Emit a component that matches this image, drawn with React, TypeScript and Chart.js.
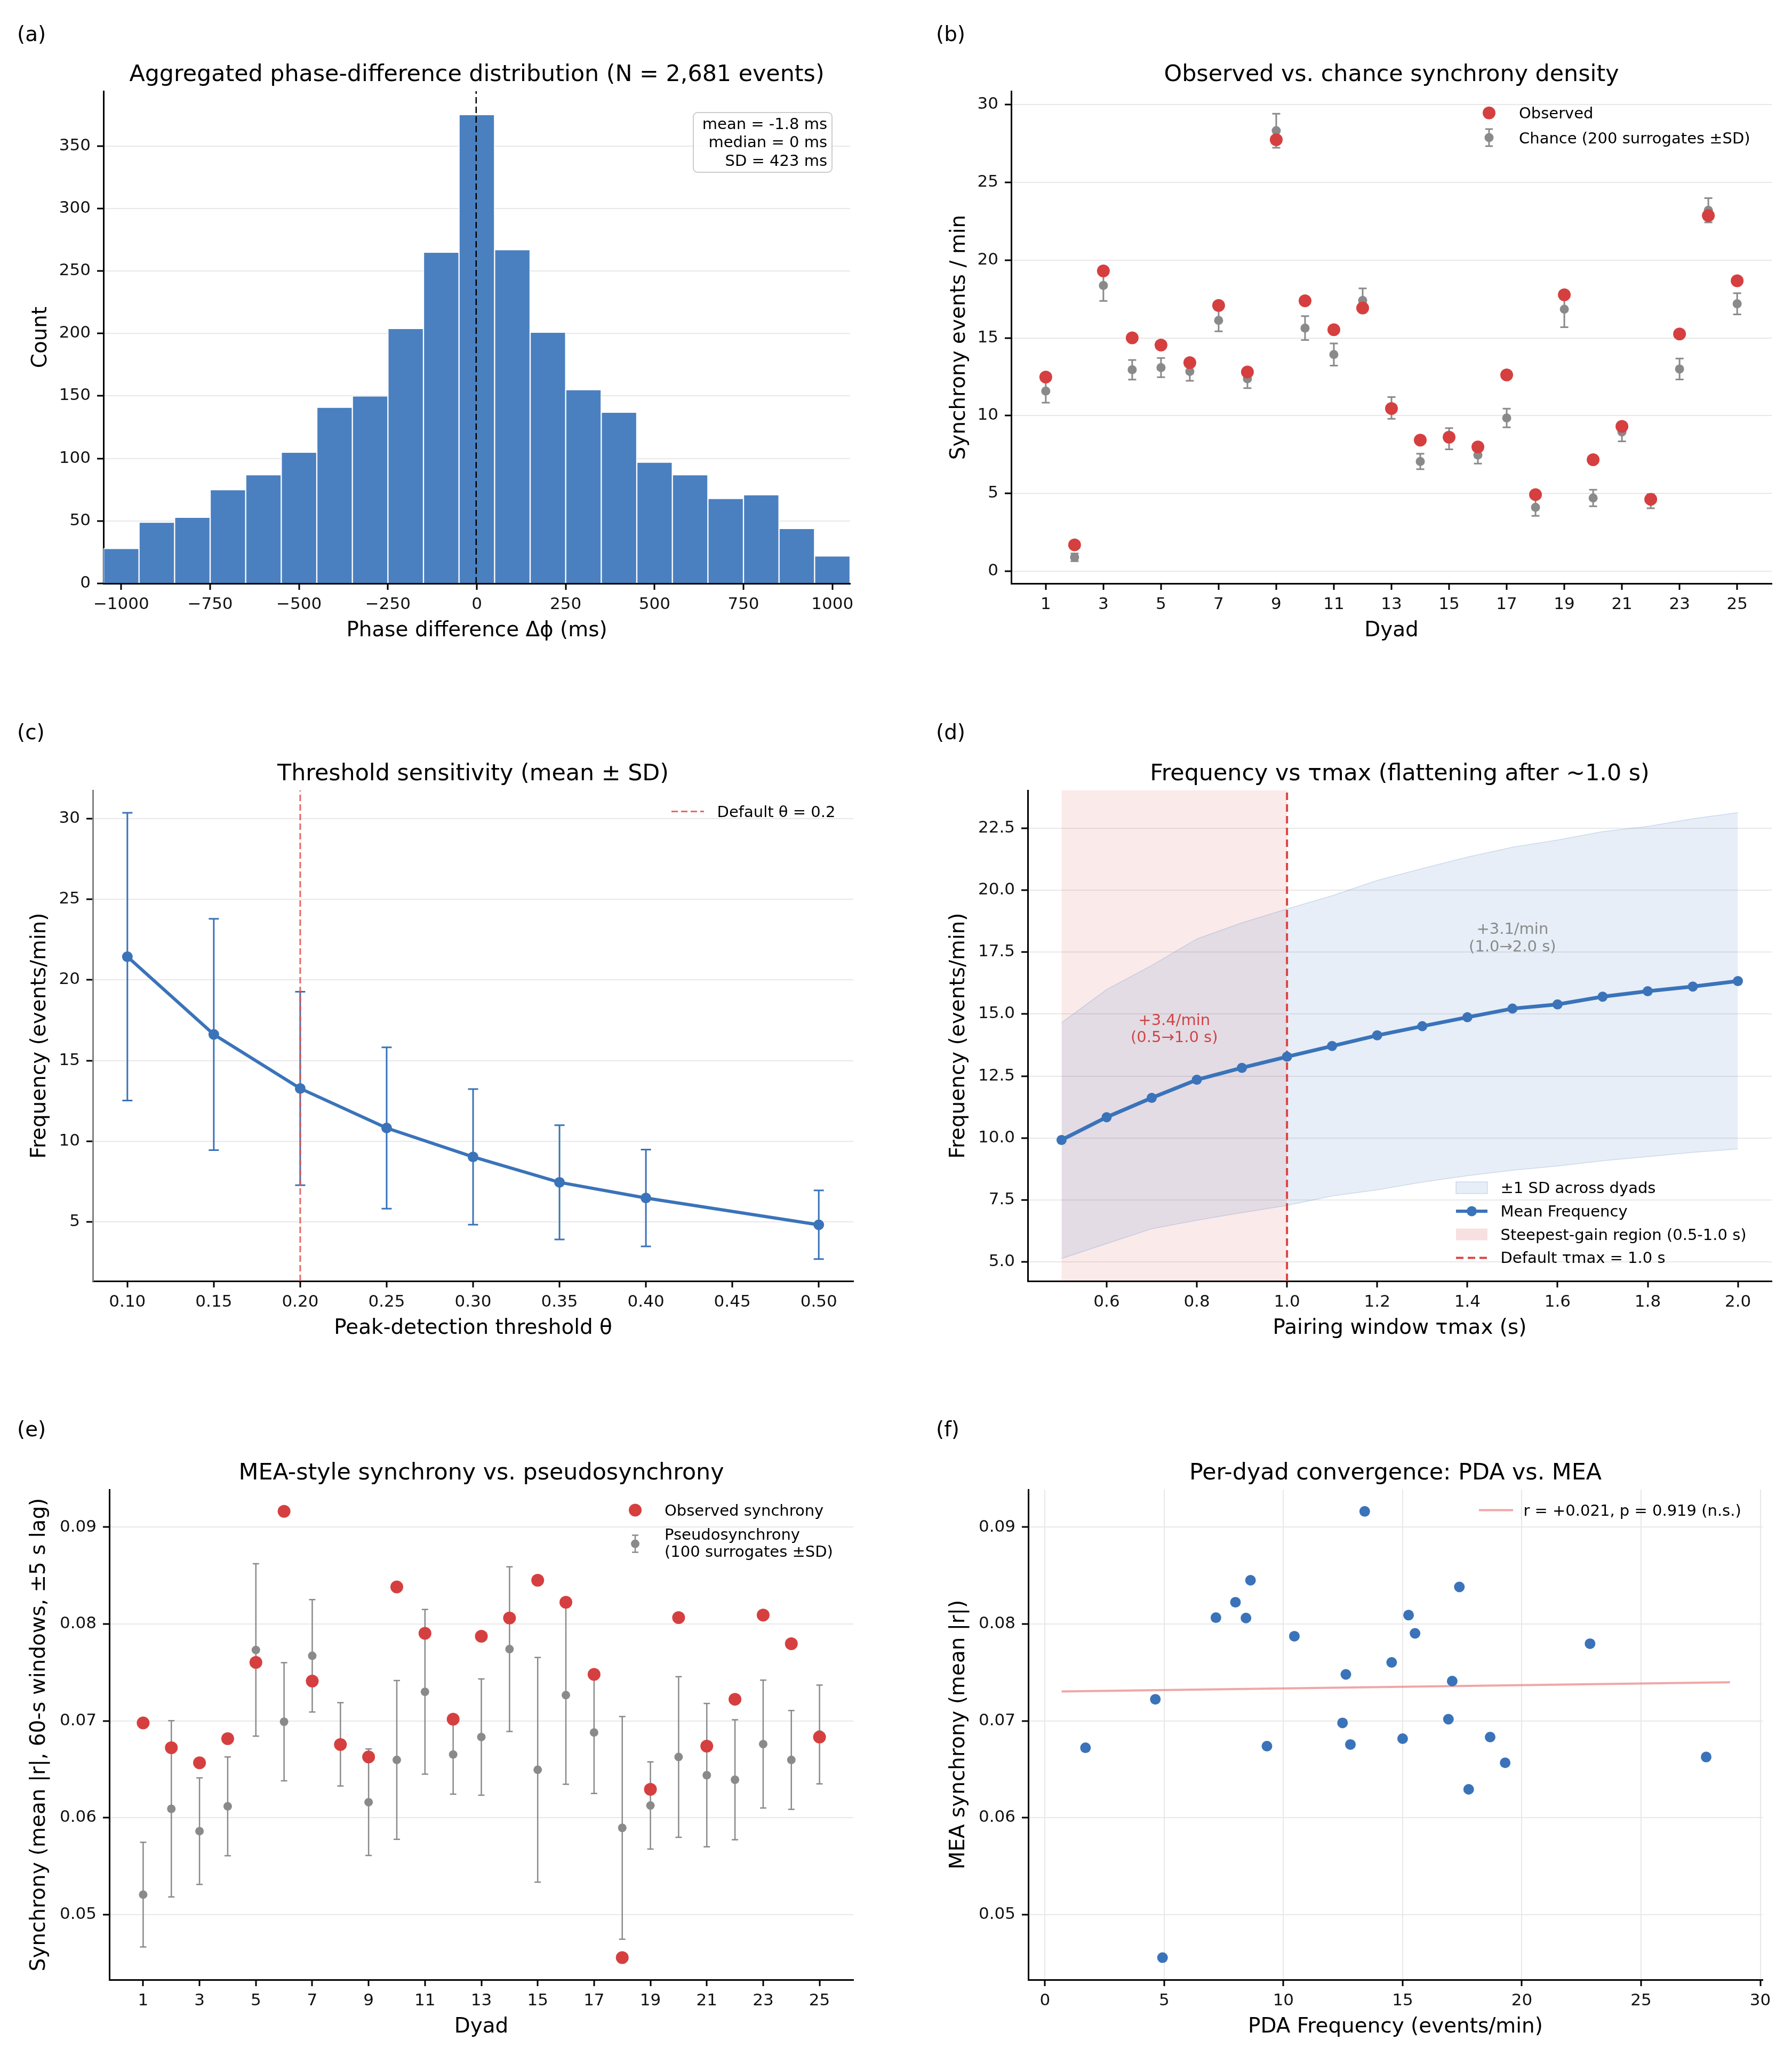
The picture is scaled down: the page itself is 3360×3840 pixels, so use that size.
import React, { useEffect, useRef } from "react";
import { Chart, registerables } from "chart.js";
Chart.register(...registerables);

// ---------------- data ----------------
// (a) histogram
const A_CENTERS = [-1000, -900, -800, -700, -600, -500, -400, -300, -200, -100, 0, 100, 200, 300, 400, 500, 600, 700, 800, 900, 1000];
const A_COUNTS = [28, 49, 53, 75, 87, 105, 141, 150, 204, 265, 375, 267, 201, 155, 137, 97, 87, 68, 71, 44, 22];
const A_MEAN = -1.8;
const A_XTICKS = [-1000, -750, -500, -250, 0, 250, 500, 750, 1000];
const A_YTICKS = [0, 50, 100, 150, 200, 250, 300, 350];
const A_STATS = ["mean = -1.8 ms", "median = 0 ms", "SD = 423 ms"];

// (b) observed vs chance
const DYADS = [1, 2, 3, 4, 5, 6, 7, 8, 9, 10, 11, 12, 13, 14, 15, 16, 17, 18, 19, 20, 21, 22, 23, 24, 25];
const B_OBS = [12.48, 1.7, 19.3, 15.0, 14.54, 13.41, 17.08, 12.81, 27.73, 17.38, 15.52, 16.92, 10.46, 8.43, 8.62, 7.99, 12.62, 4.93, 17.77, 7.17, 9.31, 4.63, 15.25, 22.86, 18.67];
const B_CHANCE = [11.58, 0.9, 18.37, 12.95, 13.09, 12.84, 16.12, 12.37, 28.31, 15.63, 13.93, 17.41, 10.5, 7.06, 8.52, 7.47, 9.85, 4.11, 16.84, 4.71, 8.95, 4.5, 13.0, 23.2, 17.19];
const B_SD = [0.74, 0.25, 1.0, 0.63, 0.62, 0.6, 0.7, 0.6, 1.09, 0.77, 0.71, 0.77, 0.7, 0.5, 0.68, 0.55, 0.6, 0.55, 1.15, 0.53, 0.6, 0.45, 0.67, 0.78, 0.68];
const ODD_TICKS = [1, 3, 5, 7, 9, 11, 13, 15, 17, 19, 21, 23, 25];
const B_YTICKS = [0, 5, 10, 15, 20, 25, 30];

// (c) threshold sensitivity
const C_X = [0.1, 0.15, 0.2, 0.25, 0.3, 0.35, 0.4, 0.5];
const C_MEAN = [21.44, 16.62, 13.27, 10.82, 9.03, 7.45, 6.48, 4.82];
const C_SD = [8.92, 7.17, 6.0, 5.0, 4.2, 3.54, 3.0, 2.13];
const C_DEFAULT = 0.2;
const C_XTICKS = [0.1, 0.15, 0.2, 0.25, 0.3, 0.35, 0.4, 0.45, 0.5];
const C_YTICKS = [5, 10, 15, 20, 25, 30];

// (d) frequency vs tau max
const D_X = [0.5, 0.6, 0.7, 0.8, 0.9, 1.0, 1.1, 1.2, 1.3, 1.4, 1.5, 1.6, 1.7, 1.8, 1.9, 2.0];
const D_MEAN = [9.92, 10.84, 11.62, 12.35, 12.83, 13.28, 13.71, 14.14, 14.51, 14.87, 15.22, 15.39, 15.7, 15.92, 16.11, 16.33];
const D_UPPER = [14.65, 15.99, 16.96, 18.03, 18.68, 19.24, 19.77, 20.39, 20.87, 21.33, 21.73, 22.02, 22.36, 22.57, 22.88, 23.12];
const D_LOWER = [5.14, 5.74, 6.34, 6.68, 6.99, 7.28, 7.66, 7.91, 8.22, 8.48, 8.7, 8.87, 9.08, 9.25, 9.42, 9.56];
const D_REGION = [0.5, 1.0];
const D_DEFAULT = 1.0;
const D_XTICKS = [0.6, 0.8, 1.0, 1.2, 1.4, 1.6, 1.8, 2.0];
const D_YTICKS = [5, 7.5, 10, 12.5, 15, 17.5, 20, 22.5];

// (e) MEA synchrony vs pseudosynchrony
const E_OBS = [0.06979, 0.06722, 0.06567, 0.06816, 0.07604, 0.09163, 0.07411, 0.06756, 0.06627, 0.08383, 0.07904, 0.07017, 0.07874, 0.08062, 0.08452, 0.08225, 0.0748, 0.04555, 0.06293, 0.08066, 0.06739, 0.07223, 0.08092, 0.07797, 0.06833];
const E_PSEUDO = [0.05206, 0.06092, 0.05861, 0.06118, 0.07732, 0.06991, 0.07672, 0.06758, 0.0616, 0.06597, 0.073, 0.06653, 0.06833, 0.07741, 0.06495, 0.07266, 0.0688, 0.05895, 0.06126, 0.06627, 0.06439, 0.06392, 0.0676, 0.06597, 0.0686];
const E_SD = [0.0054, 0.0091, 0.0055, 0.0051, 0.0089, 0.0061, 0.0058, 0.0043, 0.0055, 0.0082, 0.0085, 0.0041, 0.006, 0.0085, 0.0116, 0.0092, 0.0063, 0.0115, 0.0045, 0.0083, 0.0074, 0.0062, 0.0066, 0.0051, 0.0051];
const E_YTICKS = [0.05, 0.06, 0.07, 0.08, 0.09];

// (f) PDA vs MEA (per dyad: x = B_OBS, y = E_OBS)
const F_REG_X = [0.7, 28.73];
const F_REG_Y = [0.07304, 0.07398];
const F_XTICKS = [0, 5, 10, 15, 20, 25, 30];

// ---------------- style ----------------
const FONT = '"DejaVu Sans", sans-serif';
const TITLE = 42.8, LABEL = 38.9, TICK = 31, LEG = 29, PANEL = 38.9;
const BAR = "#4a80c0";
const RED = "#d63f3f";
const GRAY = "#8a8a8a";
const LBLUE = "#3a73b9";
const GRID = "#e8e8e8";
const YW = 150, XH = 100;

type Rect = { x: number; y: number; w: number; h: number };
type Area = { l: number; t: number; r: number; b: number };

function padding(c: Rect, a: Area) {
  return { left: a.l - c.x - YW, top: a.t - c.y, right: c.x + c.w - a.r, bottom: c.y + c.h - a.b - XH };
}

function scale(axis: "x" | "y", min: number, max: number, ticks: number[], fmt: (v: number) => string, grid: boolean, borderColor = "#000") {
  return {
    type: "linear",
    min, max, offset: false,
    afterBuildTicks: (s: any) => { s.ticks = ticks.map((v) => ({ value: v })); },
    afterFit: (s: any) => { if (axis === "y") s.width = YW; else s.height = XH; },
    ticks: {
      autoSkip: false, maxRotation: 0, minRotation: 0,
      font: { family: FONT, size: TICK }, color: "#111",
      padding: axis === "y" ? 12 : 9,
      callback: (v: any) => fmt(Number(v)),
    },
    grid: { drawOnChartArea: grid, color: GRID, lineWidth: 2, drawTicks: true, tickLength: 12, tickWidth: 3, tickColor: "#000", offset: false },
    border: { display: true, color: borderColor, width: 3 },
  };
}

function baseOptions(c: Rect, a: Area, scales: any) {
  return {
    animation: false, responsive: false, maintainAspectRatio: false, devicePixelRatio: 1, events: [],
    layout: { padding: padding(c, a) },
    plugins: { legend: { display: false }, tooltip: { enabled: false }, title: { display: false } },
    scales,
  };
}

// ---------------- drawing helpers ----------------
function txt(ctx: CanvasRenderingContext2D, s: string, x: number, y: number, size: number, align: CanvasTextAlign = "left", color = "#000") {
  ctx.font = `${size}px ${FONT}`;
  ctx.fillStyle = color;
  ctx.textAlign = align;
  ctx.textBaseline = "alphabetic";
  ctx.fillText(s, x, y);
}
function vtxt(ctx: CanvasRenderingContext2D, s: string, x: number, yc: number, size: number) {
  ctx.save();
  ctx.translate(x, yc);
  ctx.rotate(-Math.PI / 2);
  txt(ctx, s, 0, 0, size, "center");
  ctx.restore();
}
function dot(ctx: CanvasRenderingContext2D, x: number, y: number, r: number, color: string) {
  ctx.beginPath();
  ctx.arc(x, y, r, 0, Math.PI * 2);
  ctx.fillStyle = color;
  ctx.fill();
}
function errDot(ctx: CanvasRenderingContext2D, x: number, y: number, r: number, half: number, cap: number, color: string, lw: number) {
  ctx.save();
  ctx.strokeStyle = color;
  ctx.lineWidth = lw;
  ctx.beginPath();
  ctx.moveTo(x, y - half); ctx.lineTo(x, y + half);
  ctx.moveTo(x - cap, y - half); ctx.lineTo(x + cap, y - half);
  ctx.moveTo(x - cap, y + half); ctx.lineTo(x + cap, y + half);
  ctx.stroke();
  ctx.restore();
  dot(ctx, x, y, r, color);
}
function seg(ctx: CanvasRenderingContext2D, x1: number, x2: number, y: number, color: string, lw: number, dash: number[] = []) {
  ctx.save();
  ctx.strokeStyle = color;
  ctx.lineWidth = lw;
  ctx.setLineDash(dash);
  ctx.beginPath();
  ctx.moveTo(x1, y); ctx.lineTo(x2, y);
  ctx.stroke();
  ctx.restore();
}

function errPlugin(xs: number[], ys: number[], sds: number[], color: string, lw: number, cap: number) {
  return {
    id: "errbars",
    beforeDatasetsDraw(chart: any) {
      const { ctx, scales } = chart;
      ctx.save();
      ctx.strokeStyle = color;
      ctx.lineWidth = lw;
      xs.forEach((xv, i) => {
        const px = scales.x.getPixelForValue(xv);
        const pt = scales.y.getPixelForValue(ys[i] + sds[i]);
        const pb = scales.y.getPixelForValue(ys[i] - sds[i]);
        ctx.beginPath();
        ctx.moveTo(px, pt); ctx.lineTo(px, pb);
        ctx.moveTo(px - cap, pt); ctx.lineTo(px + cap, pt);
        ctx.moveTo(px - cap, pb); ctx.lineTo(px + cap, pb);
        ctx.stroke();
      });
      ctx.restore();
    },
  };
}

function decoPlugin(c: Rect, draw: (ctx: CanvasRenderingContext2D, chart: any) => void) {
  return {
    id: "deco",
    afterDraw(chart: any) {
      const ctx = chart.ctx as CanvasRenderingContext2D;
      ctx.save();
      ctx.translate(-c.x, -c.y);
      draw(ctx, chart);
      ctx.restore();
    },
  };
}

// titles, labels
function frame(ctx: CanvasRenderingContext2D, a: Area, panel: string, px: number, pyBase: number, title: string, xlabel: string, ylabel: string, ylx: number) {
  const cx = (a.l + a.r) / 2;
  txt(ctx, panel, px, pyBase, PANEL);
  txt(ctx, title, cx, a.t - 19, TITLE, "center");
  txt(ctx, xlabel, cx, a.b + 98.5, LABEL, "center");
  vtxt(ctx, ylabel, ylx, (a.t + a.b) / 2, LABEL);
}

const pts = (xs: number[], ys: number[]) => xs.map((x, i) => ({ x, y: ys[i] }));
const intFmt = (v: number) => (v < 0 ? "\u2212" + Math.abs(v) : String(v));

// ---------------- panels ----------------
const RA: Rect = { x: 0, y: 0, w: 1680, h: 1290 };
const AA: Area = { l: 194, t: 171, r: 1594, b: 1094 };
const RB: Rect = { x: 1680, y: 0, w: 1680, h: 1290 };
const AB: Area = { l: 1896, t: 171, r: 3322, b: 1094 };
const RC: Rect = { x: 0, y: 1290, w: 1680, h: 1300 };
const AC: Area = { l: 174, t: 1482, r: 1600, b: 2402 };
const RD: Rect = { x: 1680, y: 1290, w: 1680, h: 1300 };
const AD: Area = { l: 1927, t: 1482, r: 3322, b: 2402 };
const RE: Rect = { x: 0, y: 2590, w: 1680, h: 1250 };
const AE: Area = { l: 205, t: 2793, r: 1600, b: 3712 };
const RF: Rect = { x: 1680, y: 2590, w: 1680, h: 1250 };
const AF: Area = { l: 1928, t: 2793, r: 3305, b: 3712 };

function buildA() {
  const yMax = 393.75;
  return {
    type: "bar",
    data: {
      datasets: [
        { type: "line", data: [{ x: A_MEAN, y: 0 }, { x: A_MEAN, y: yMax }], borderColor: "#000", borderWidth: 2.5, borderDash: [12, 6], pointRadius: 0, fill: false },
        { type: "bar", data: pts(A_CENTERS, A_COUNTS), backgroundColor: BAR, borderColor: "#ffffff", borderWidth: 1.5, borderSkipped: "bottom", barPercentage: 1, categoryPercentage: 1 },
      ],
    },
    options: baseOptions(RA, AA, {
      x: scale("x", -1050, 1050, A_XTICKS, intFmt, false),
      y: scale("y", 0, yMax, A_YTICKS, intFmt, true),
    }),
    plugins: [
      decoPlugin(RA, (ctx) => {
        frame(ctx, AA, "(a)", 32, 77, "Aggregated phase-difference distribution (N = 2,681 events)", "Phase difference \u0394\u03d5 (ms)", "Count", 87);
        ctx.save();
        ctx.beginPath();
        (ctx as any).roundRect(1300, 211, 260, 112, 8);
        ctx.fillStyle = "rgba(255,255,255,0.85)";
        ctx.fill();
        ctx.strokeStyle = "#cccccc";
        ctx.lineWidth = 2;
        ctx.stroke();
        ctx.restore();
        A_STATS.forEach((s, i) => txt(ctx, s, 1551, 241.5 + i * 34.5, LEG, "right"));
      }),
    ],
  };
}

function buildB() {
  return {
    type: "scatter",
    data: {
      datasets: [
        { data: pts(DYADS, B_OBS), pointRadius: 12, pointBackgroundColor: RED, pointBorderWidth: 0 },
        { data: pts(DYADS, B_CHANCE), pointRadius: 8.5, pointBackgroundColor: GRAY, pointBorderWidth: 0 },
      ],
    },
    options: baseOptions(RB, AB, {
      x: scale("x", -0.2, 26.2, ODD_TICKS, intFmt, false),
      y: scale("y", -0.78, 30.85, B_YTICKS, intFmt, true),
    }),
    plugins: [
      errPlugin(DYADS, B_CHANCE, B_SD, GRAY, 3, 7.5),
      decoPlugin(RB, (ctx) => {
        frame(ctx, AB, "(b)", 1755, 77, "Observed vs. chance synchrony density", "Dyad", "Synchrony events / min", 1809);
        dot(ctx, 2792, 211.7, 12, RED);
        txt(ctx, "Observed", 2848, 222, LEG);
        errDot(ctx, 2792, 258, 8.5, 16, 7, GRAY, 3);
        txt(ctx, "Chance (200 surrogates \u00b1SD)", 2848, 268.5, LEG);
      }),
    ],
  };
}

function buildC() {
  const yMin = 1.33, yMax = 31.75;
  return {
    type: "scatter",
    data: {
      datasets: [
        { data: pts(C_X, C_MEAN), showLine: true, borderColor: LBLUE, borderWidth: 6, pointRadius: 10, pointBackgroundColor: LBLUE, pointBorderWidth: 0 },
        { data: [{ x: C_DEFAULT, y: yMin }, { x: C_DEFAULT, y: yMax }], showLine: true, borderColor: "rgba(224,80,80,0.85)", borderWidth: 3, borderDash: [12, 6], pointRadius: 0 },
      ],
    },
    options: baseOptions(RC, AC, {
      x: scale("x", 0.08, 0.52, C_XTICKS, (v) => v.toFixed(2), false),
      y: scale("y", yMin, yMax, C_YTICKS, intFmt, true, "#808080"),
    }),
    plugins: [
      errPlugin(C_X, C_MEAN, C_SD, LBLUE, 3, 9.5),
      decoPlugin(RC, (ctx) => {
        frame(ctx, AC, "(c)", 32, 1386, "Threshold sensitivity (mean \u00b1 SD)", "Peak-detection threshold \u03b8", "Frequency (events/min)", 85);
        seg(ctx, 1259, 1320, 1521.6, "rgba(224,80,80,0.85)", 3, [12, 6]);
        txt(ctx, "Default \u03b8 = 0.2", 1344.6, 1531.6, LEG);
      }),
    ],
  };
}

function buildD() {
  const yMin = 4.23, yMax = 24.02;
  const bandFill = "rgba(70,120,190,0.13)";
  const bandEdge = "rgba(70,120,190,0.22)";
  const pink = "rgba(214,60,60,0.11)";
  return {
    type: "scatter",
    data: {
      datasets: [
        { data: pts(D_X, D_MEAN), showLine: true, borderColor: LBLUE, borderWidth: 7, pointRadius: 9.5, pointBackgroundColor: LBLUE, pointBorderWidth: 0 },
        { data: [{ x: D_DEFAULT, y: yMin }, { x: D_DEFAULT, y: yMax }], showLine: true, borderColor: "#dc4444", borderWidth: 4, borderDash: [14, 8], pointRadius: 0 },
        { data: pts(D_X, D_UPPER), showLine: true, borderColor: bandEdge, borderWidth: 1.5, pointRadius: 0, fill: "+1", backgroundColor: bandFill },
        { data: pts(D_X, D_LOWER), showLine: true, borderColor: bandEdge, borderWidth: 1.5, pointRadius: 0, fill: false },
        { data: [{ x: D_REGION[0], y: yMax }, { x: D_REGION[1], y: yMax }], showLine: true, borderWidth: 0, borderColor: "rgba(0,0,0,0)", pointRadius: 0, fill: "start", backgroundColor: pink },
      ],
    },
    options: baseOptions(RD, AD, {
      x: scale("x", 0.425, 2.075, D_XTICKS, (v) => v.toFixed(1), false),
      y: scale("y", yMin, yMax, D_YTICKS, (v) => v.toFixed(1), true),
    }),
    plugins: [
      decoPlugin(RD, (ctx, chart) => {
        frame(ctx, AD, "(d)", 1755, 1386, "Frequency vs \u03c4max (flattening after ~1.0 s)", "Pairing window \u03c4max (s)", "Frequency (events/min)", 1808);
        const sx = chart.scales.x, sy = chart.scales.y;
        const ax = sx.getPixelForValue(0.75) + RD.x, ay = sy.getPixelForValue(14.42) + RD.y;
        txt(ctx, "+3.4/min", ax, ay - 6, LEG, "center", "#d04545");
        txt(ctx, "(0.5\u21921.0 s)", ax, ay + 26, LEG, "center", "#d04545");
        const gx = sx.getPixelForValue(1.5) + RD.x, gy = sy.getPixelForValue(18.1) + RD.y;
        txt(ctx, "+3.1/min", gx, gy - 6, LEG, "center", "#8a8a8a");
        txt(ctx, "(1.0\u21922.0 s)", gx, gy + 27, LEG, "center", "#8a8a8a");
        // legend
        const lx1 = 2730, lx2 = 2789, tx = 2813.5;
        const ys = [2227, 2271, 2314.6, 2358.4];
        ctx.fillStyle = bandFill; ctx.fillRect(lx1, ys[0] - 11, lx2 - lx1, 22);
        ctx.strokeStyle = bandEdge; ctx.lineWidth = 1.5; ctx.strokeRect(lx1, ys[0] - 11, lx2 - lx1, 22);
        txt(ctx, "\u00b11 SD across dyads", tx, ys[0] + 10, LEG);
        seg(ctx, lx1, lx2, ys[1], LBLUE, 6);
        dot(ctx, (lx1 + lx2) / 2, ys[1], 9.5, LBLUE);
        txt(ctx, "Mean Frequency", tx, ys[1] + 10, LEG);
        ctx.fillStyle = "rgba(214,60,60,0.16)"; ctx.fillRect(lx1, ys[2] - 11, lx2 - lx1, 22);
        txt(ctx, "Steepest-gain region (0.5-1.0 s)", tx, ys[2] + 10, LEG);
        seg(ctx, lx1, lx2, ys[3], "#dc4444", 4, [14, 8]);
        txt(ctx, "Default \u03c4max = 1.0 s", tx, ys[3] + 10, LEG);
      }),
    ],
  };
}

function buildE() {
  return {
    type: "scatter",
    data: {
      datasets: [
        { data: pts(DYADS, E_OBS), pointRadius: 12, pointBackgroundColor: RED, pointBorderWidth: 0 },
        { data: pts(DYADS, E_PSEUDO), pointRadius: 8, pointBackgroundColor: GRAY, pointBorderWidth: 0 },
      ],
    },
    options: baseOptions(RE, AE, {
      x: scale("x", -0.2, 26.2, ODD_TICKS, intFmt, false),
      y: scale("y", 0.04327, 0.09388, E_YTICKS, (v) => v.toFixed(2), true),
    }),
    plugins: [
      errPlugin(DYADS, E_PSEUDO, E_SD, GRAY, 2.5, 6),
      decoPlugin(RE, (ctx) => {
        frame(ctx, AE, "(e)", 32, 2693, "MEA-style synchrony vs. pseudosynchrony", "Dyad", "Synchrony (mean |r|, 60-s windows, \u00b15 s lag)", 84);
        dot(ctx, 1191, 2831.6, 12, RED);
        txt(ctx, "Observed synchrony", 1246, 2841.6, LEG);
        errDot(ctx, 1191, 2894.6, 8, 16, 6, GRAY, 2.5);
        txt(ctx, "Pseudosynchrony", 1246, 2886.7, LEG);
        txt(ctx, "(100 surrogates \u00b1SD)", 1246, 2919.4, LEG);
      }),
    ],
  };
}

function buildF() {
  return {
    type: "scatter",
    data: {
      datasets: [
        { data: pts(B_OBS, E_OBS), pointRadius: 10, pointBackgroundColor: LBLUE, pointBorderWidth: 0 },
        { data: pts(F_REG_X, F_REG_Y), showLine: true, borderColor: "rgba(230,120,120,0.65)", borderWidth: 4, pointRadius: 0 },
      ],
    },
    options: baseOptions(RF, AF, {
      x: scale("x", -0.7, 30.1, F_XTICKS, intFmt, true),
      y: scale("y", 0.04327, 0.09388, E_YTICKS, (v) => v.toFixed(2), true),
    }),
    plugins: [
      decoPlugin(RF, (ctx) => {
        frame(ctx, AF, "(f)", 1755, 2693, "Per-dyad convergence: PDA vs. MEA", "PDA Frequency (events/min)", "MEA synchrony (mean |r|)", 1808);
        seg(ctx, 2773, 2837, 2831.6, "rgba(230,120,120,0.65)", 4);
        txt(ctx, "r = +0.021, p = 0.919 (n.s.)", 2856.4, 2841.6, LEG);
      }),
    ],
  };
}

function Panel({ rect, build }: { rect: Rect; build: () => any }) {
  const ref = useRef<HTMLCanvasElement>(null);
  useEffect(() => {
    const chart = new Chart(ref.current as HTMLCanvasElement, build() as any);
    return () => chart.destroy();
  }, []);
  return (
    <canvas
      ref={ref}
      width={rect.w}
      height={rect.h}
      style={{ position: "absolute", left: rect.x, top: rect.y, width: rect.w, height: rect.h }}
    />
  );
}

export default function App() {
  useEffect(() => {
    document.body.style.margin = "0";
    document.body.style.background = "#ffffff";
  }, []);
  return (
    <div style={{ position: "relative", width: 3360, height: 3840, background: "#ffffff", overflow: "hidden" }}>
      <Panel rect={RA} build={buildA} />
      <Panel rect={RB} build={buildB} />
      <Panel rect={RC} build={buildC} />
      <Panel rect={RD} build={buildD} />
      <Panel rect={RE} build={buildE} />
      <Panel rect={RF} build={buildF} />
    </div>
  );
}
